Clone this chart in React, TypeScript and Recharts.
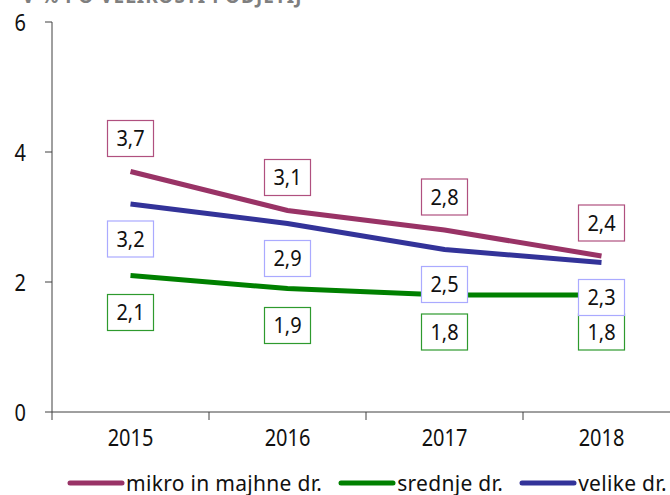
import React from 'react';
import { LineChart, Line, XAxis, YAxis, Legend, LabelList } from 'recharts';

const years = ['2015', '2016', '2017', '2018'];
const mikro = [3.7, 3.1, 2.8, 2.4];
const srednje = [2.1, 1.9, 1.8, 1.8];
const velike = [3.2, 2.9, 2.5, 2.3];
const yTicks = [0, 2, 4, 6];
const seriesNames = ['mikro in majhne dr.', 'srednje dr.', 'velike dr.'];
const titleText = 'V % PO VELIKOSTI PODJETIJ';

const data = years.map((y, i) => ({
  x: i + 0.5,
  year: y,
  mikro: mikro[i],
  srednje: srednje[i],
  velike: velike[i],
}));

const xTicks: number[] = [];
for (let i = 0; i <= years.length; i++) {
  xTicks.push(i);
  if (i < years.length) xTicks.push(i + 0.5);
}

const COLORS = { mikro: '#993366', srednje: '#008000', velike: '#333399' };
const BORDERS = { mikro: '#b0507f', srednje: '#2e9a2e', velike: '#aaaaff' };
const FONT = '"Noto Sans", "Open Sans", sans-serif';

const makeLabel = (border: string, dy: number) => (props: any) => {
  const { x, y, value } = props;
  if (x == null || y == null) return null;
  const cy = y + dy;
  return (
    <g>
      <rect x={x - 23} y={cy - 18} width={46} height={36} fill="#ffffff" stroke={border} strokeWidth={1.2} />
      <text
        transform={`translate(${x},${cy + 7.5}) scale(1,1.1)`}
        textAnchor="middle"
        fontSize={20}
        fontFamily={FONT}
        fill="#111"
      >
        {String(value).replace('.', ',')}
      </text>
    </g>
  );
};

const XTick = (props: any) => {
  const { x, y, payload } = props;
  const v = payload.value;
  if (Number.isInteger(v)) {
    return <line x1={x} x2={x} y1={y} y2={y + 8} stroke="#404040" strokeWidth={1} />;
  }
  const idx = Math.floor(v);
  return (
    <text transform={`translate(${x},${y + 34}) scale(1,1.18)`} textAnchor="middle" fontSize={20} fontFamily={FONT} fill="#111">
      {years[idx]}
    </text>
  );
};

const YTick = (props: any) => {
  const { x, y, payload } = props;
  return (
    <text transform={`translate(${x},${y + 8.5}) scale(1,1.18)`} textAnchor="end" fontSize={20} fontFamily={FONT} fill="#111">
      {payload.value}
    </text>
  );
};

const LegendContent = () => {
  const items = [
    { name: seriesNames[0], color: COLORS.mikro },
    { name: seriesNames[1], color: COLORS.srednje },
    { name: seriesNames[2], color: COLORS.velike },
  ];
  return (
    <div style={{ display: 'flex', alignItems: 'center', whiteSpace: 'nowrap', fontFamily: FONT, fontSize: 21, letterSpacing: 0.3, color: '#111', lineHeight: '22px' }}>
      {items.map((it, i) => (
        <div key={i} style={{ display: 'flex', alignItems: 'center', marginRight: 16 }}>
          <svg width={58} height={10} style={{ marginRight: 1 }}>
            <line x1={3} x2={55} y1={5} y2={5} stroke={it.color} strokeWidth={5} strokeLinecap="round" />
          </svg>
          <span>{it.name}</span>
        </div>
      ))}
    </div>
  );
};

export default function App() {
  return (
    <div style={{ position: 'absolute', left: 0, top: 0, width: 670, height: 495, overflow: 'hidden', background: '#fff' }}>
      <div style={{ position: 'absolute', left: 22, top: -17, fontFamily: FONT, fontWeight: 700, fontSize: 19, color: '#7f7f7f', whiteSpace: 'nowrap', letterSpacing: 1 }}>
        {titleText}
      </div>
      <LineChart width={700} height={495} data={data} margin={{ top: 22, right: 20, bottom: 43, left: 0 }}>
        <XAxis
          dataKey="x"
          type="number"
          domain={[0, 4]}
          ticks={xTicks}
          interval={0}
          tick={<XTick />}
          tickLine={false}
          tickSize={0}
          tickMargin={0}
          axisLine={{ stroke: '#404040', strokeWidth: 1 }}
          height={40}
        />
        <YAxis
          domain={[0, 6]}
          ticks={yTicks}
          interval={0}
          width={52}
          tickSize={7}
          tickMargin={19}
          tick={<YTick />}
          tickLine={{ stroke: '#404040' }}
          axisLine={{ stroke: '#404040', strokeWidth: 1 }}
        />
        <Line dataKey="mikro" name={seriesNames[0]} stroke={COLORS.mikro} strokeWidth={5} dot={false} isAnimationActive={false} />
        <Line dataKey="srednje" name={seriesNames[1]} stroke={COLORS.srednje} strokeWidth={5} dot={false} isAnimationActive={false} />
        <Line dataKey="velike" name={seriesNames[2]} stroke={COLORS.velike} strokeWidth={5} dot={false} isAnimationActive={false} />
        <Line dataKey="mikro" stroke="none" dot={false} legendType="none" isAnimationActive={false}>
          <LabelList dataKey="mikro" content={makeLabel(BORDERS.mikro, -33)} />
        </Line>
        <Line dataKey="srednje" stroke="none" dot={false} legendType="none" isAnimationActive={false}>
          <LabelList dataKey="srednje" content={makeLabel(BORDERS.srednje, 37)} />
        </Line>
        <Line dataKey="velike" stroke="none" dot={false} legendType="none" isAnimationActive={false}>
          <LabelList dataKey="velike" content={makeLabel(BORDERS.velike, 35)} />
        </Line>
        <Legend
          content={<LegendContent />}
          wrapperStyle={{ position: 'absolute', left: 67, top: 472, width: 620, height: 0, overflow: 'visible' }}
        />
      </LineChart>
    </div>
  );
}
